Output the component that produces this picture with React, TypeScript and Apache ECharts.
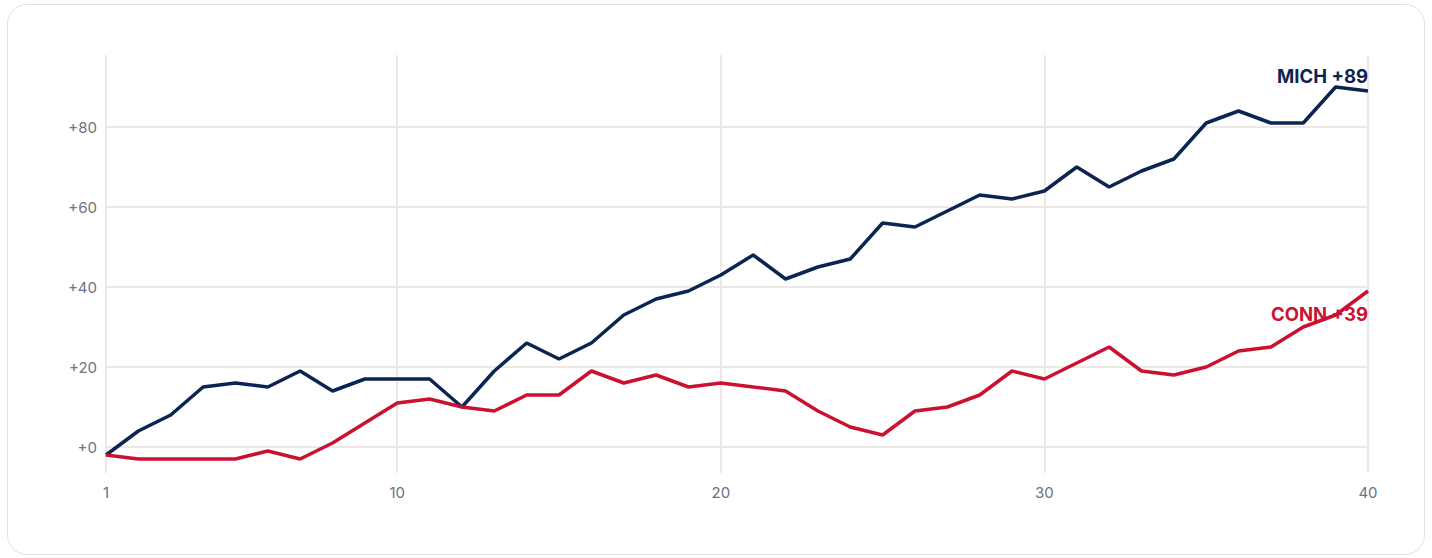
import React, { useEffect, useRef } from 'react';
import * as echarts from 'echarts';

const games = ['1','2','3','4','5','6','7','8','9','10','11','12','13','14','15','16','17','18','19','20','21','22','23','24','25','26','27','28','29','30','31','32','33','34','35','36','37','38','39','40'];
const labeledGames = ['1', '10', '20', '30', '40'];
const yTicks = [0, 20, 40, 60, 80];
const seriesNames = ['MICH', 'CONN'];
const michValues = [-2,4,8,15,16,15,19,14,17,17,17,10,19,26,22,26,33,37,39,43,48,42,45,47,56,55,59,63,62,64,70,65,69,72,81,84,81,81,90,89];
const connValues = [-2,-3,-3,-3,-3,-1,-3,1,6,11,12,10,9,13,13,19,16,18,15,16,15,14,9,5,3,9,10,13,19,17,21,25,19,18,20,24,25,30,33,39];

const NAVY = '#0c2452';
const RED = '#cb1131';
const GRID = '#ece9e2';
const AXIS_TEXT = '#6b7280';
const FONT = 'Inter, "Noto Sans", sans-serif';

export default function App() {
  const ref = useRef<HTMLDivElement>(null);
  useEffect(() => {
    if (!ref.current) return;
    const chart = echarts.init(ref.current, undefined, { renderer: 'svg' });
    const showIdx = (i: number) => labeledGames.includes(games[i]);
    const mkSeries = (name: string, values: number[], color: string, offsetY: number) => ({
      name,
      type: 'line',
      data: values,
      symbol: 'none',
      z: 3,
      lineStyle: { color, width: 3.5 },
      markPoint: {
        silent: true,
        z: 2,
        symbol: 'circle',
        symbolSize: 0,
        data: [
          {
            coord: [values.length - 1, values[values.length - 1]],
            label: {
              show: true,
              position: 'inside',
              align: 'right',
              verticalAlign: 'middle',
              offset: [0, offsetY],
              formatter: () => `${name} +${values[values.length - 1]}`,
              color,
              fontFamily: FONT,
              fontWeight: 700,
              fontSize: 18.5,
            },
          },
        ],
      },
    });
    chart.setOption({
      animation: false,
      backgroundColor: 'transparent',
      grid: { left: 106, right: 64, top: 55, bottom: 85 },
      xAxis: {
        type: 'category',
        data: games,
        boundaryGap: false,
        axisLine: { show: false },
        axisTick: { show: false },
        axisLabel: {
          interval: (i: number) => showIdx(i),
          color: AXIS_TEXT,
          fontSize: 15,
          fontFamily: FONT,
          margin: 12,
        },
        splitLine: {
          show: true,
          interval: (i: number) => showIdx(i),
          lineStyle: { color: GRID, width: 2 },
        },
      },
      yAxis: {
        type: 'value',
        min: -6.5,
        max: 98,
        axisLine: { show: false },
        axisTick: { show: false, customValues: yTicks },
        axisLabel: {
          customValues: yTicks,
          formatter: (v: number) => `+${v}`,
          color: AXIS_TEXT,
          fontSize: 15,
          fontFamily: FONT,
          margin: 9,
        },
        splitLine: { show: true, lineStyle: { color: GRID, width: 2 } },
      },
      series: [
        mkSeries(seriesNames[0], michValues, NAVY, -15),
        mkSeries(seriesNames[1], connValues, RED, 23),
      ],
    });
    return () => chart.dispose();
  }, []);

  return (
    <div style={{ position: 'absolute', left: 0, top: 0, width: 1432, height: 558, background: '#fff' }}>
      <div
        style={{
          position: 'absolute',
          left: 7,
          top: 4,
          width: 1418,
          height: 551,
          boxSizing: 'border-box',
          border: '1.5px solid #e3e0d9',
          borderRadius: 20,
          background: '#fff',
        }}
      />
      <div ref={ref} style={{ position: 'absolute', left: 0, top: 0, width: 1432, height: 558 }} />
    </div>
  );
}
